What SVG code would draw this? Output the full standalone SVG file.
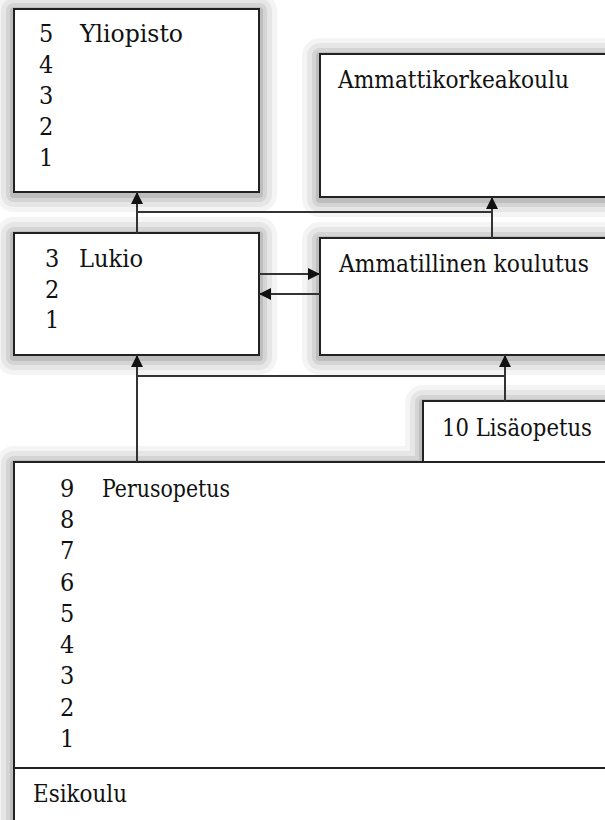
<svg xmlns="http://www.w3.org/2000/svg" width="605" height="820" viewBox="0 0 605 820">
  <defs>
    <marker id="arrow" viewBox="0 0 12 12" refX="12" refY="6" markerWidth="12" markerHeight="12" markerUnits="userSpaceOnUse" orient="auto">
      <path d="M0,0 L12,6 L0,12 Z" fill="#111"/>
    </marker>
  </defs>
  <style>
    .box { fill: #fff; stroke: #222; stroke-width: 2; }
    .wire { fill: none; stroke: #333; stroke-width: 2; }
    .s18 { fill: #f4f4f4; }
    .s13 { fill: #e6e6e6; }
    .s8 { fill: #d4d4d4; }
    .s4 { fill: #bdbdbd; }
  </style>

  <rect width="605" height="820" fill="#fff"/>

  <!-- soft shadows: layered halos, outermost (lightest) first -->
  <g id="shadows">
    <g class="s18">
      <rect x="-4" y="-7" width="281" height="219" rx="18"/>
      <rect x="302" y="38" width="336" height="179" rx="18"/>
      <rect x="-4" y="217" width="281" height="158" rx="18"/>
      <rect x="302" y="222" width="336" height="153" rx="18"/>
      <rect x="405" y="385" width="236" height="97" rx="18"/>
      <rect x="-4" y="446" width="646" height="416" rx="18"/>
    </g>
    <g class="s13">
      <rect x="1" y="-2" width="271" height="209" rx="13"/>
      <rect x="307" y="43" width="326" height="169" rx="13"/>
      <rect x="1" y="222" width="271" height="148" rx="13"/>
      <rect x="307" y="227" width="326" height="143" rx="13"/>
      <rect x="410" y="390" width="226" height="87" rx="13"/>
      <rect x="1" y="451" width="636" height="406" rx="13"/>
    </g>
    <g class="s8">
      <rect x="6" y="3" width="261" height="199" rx="8"/>
      <rect x="312" y="48" width="316" height="159" rx="8"/>
      <rect x="6" y="227" width="261" height="138" rx="8"/>
      <rect x="312" y="232" width="316" height="133" rx="8"/>
      <rect x="415" y="395" width="216" height="77" rx="8"/>
      <rect x="6" y="456" width="626" height="396" rx="8"/>
    </g>
    <g class="s4">
      <rect x="10" y="7" width="253" height="191" rx="4"/>
      <rect x="316" y="52" width="308" height="151" rx="4"/>
      <rect x="10" y="231" width="253" height="130" rx="4"/>
      <rect x="316" y="236" width="308" height="125" rx="4"/>
      <rect x="419" y="399" width="208" height="69" rx="4"/>
      <rect x="10" y="460" width="618" height="388" rx="4"/>
    </g>
  </g>

  <g font-family="DejaVu Serif, serif" font-stretch="condensed" font-size="25" fill="#111">
    <!-- University: study years 5..1 -->
    <g id="yliopisto">
      <rect class="box" x="14" y="9" width="245" height="183"/>
      <text x="39" y="42">5</text>
      <text x="80" y="42" textLength="103" lengthAdjust="spacingAndGlyphs">Yliopisto</text>
      <text x="39" y="73">4</text>
      <text x="39" y="104">3</text>
      <text x="39" y="135">2</text>
      <text x="39" y="166">1</text>
    </g>

    <!-- University of applied sciences -->
    <g id="ammattikorkeakoulu">
      <rect class="box" x="320" y="54" width="300" height="143"/>
      <text x="338" y="88" textLength="231" lengthAdjust="spacingAndGlyphs">Ammattikorkeakoulu</text>
    </g>

    <!-- Upper secondary school: years 3..1 -->
    <g id="lukio">
      <rect class="box" x="14" y="233" width="245" height="122"/>
      <text x="45" y="267">3</text>
      <text x="79" y="267" textLength="64" lengthAdjust="spacingAndGlyphs">Lukio</text>
      <text x="45" y="298">2</text>
      <text x="45" y="328">1</text>
    </g>

    <!-- Vocational education -->
    <g id="ammatillinen">
      <rect class="box" x="320" y="238" width="300" height="117"/>
      <text x="339" y="272" textLength="250" lengthAdjust="spacingAndGlyphs">Ammatillinen koulutus</text>
    </g>

    <!-- Additional 10th grade -->
    <g id="lisaopetus">
      <rect class="box" x="423" y="401" width="200" height="61"/>
      <text x="442" y="436" textLength="150" lengthAdjust="spacingAndGlyphs">10 Lisäopetus</text>
    </g>

    <!-- Basic education: grades 9..1, with pre-school underneath -->
    <g id="perusopetus">
      <rect class="box" x="14" y="462" width="610" height="380"/>
      <line x1="14" y1="768" x2="624" y2="768" stroke="#222" stroke-width="2"/>
      <text x="60" y="497">9</text>
      <text x="102" y="497" textLength="128" lengthAdjust="spacingAndGlyphs">Perusopetus</text>
      <text x="60" y="528">8</text>
      <text x="60" y="559">7</text>
      <text x="60" y="591">6</text>
      <text x="60" y="622">5</text>
      <text x="60" y="653">4</text>
      <text x="60" y="684">3</text>
      <text x="60" y="716">2</text>
      <text x="60" y="747">1</text>
    </g>

    <g id="esikoulu">
      <text x="33" y="802" textLength="94" lengthAdjust="spacingAndGlyphs">Esikoulu</text>
    </g>
  </g>

  <!-- Progression paths -->
  <g id="connectors">
    <path class="wire" d="M137,233 V192" marker-end="url(#arrow)"/>
    <path class="wire" d="M137,212 H492"/>
    <path class="wire" d="M492,238 V197" marker-end="url(#arrow)"/>
    <path class="wire" d="M259,274 H320" marker-end="url(#arrow)"/>
    <path class="wire" d="M320,294 H259" marker-end="url(#arrow)"/>
    <path class="wire" d="M137,462 V355" marker-end="url(#arrow)"/>
    <path class="wire" d="M137,376 H505"/>
    <path class="wire" d="M505,401 V355" marker-end="url(#arrow)"/>
  </g>
</svg>
